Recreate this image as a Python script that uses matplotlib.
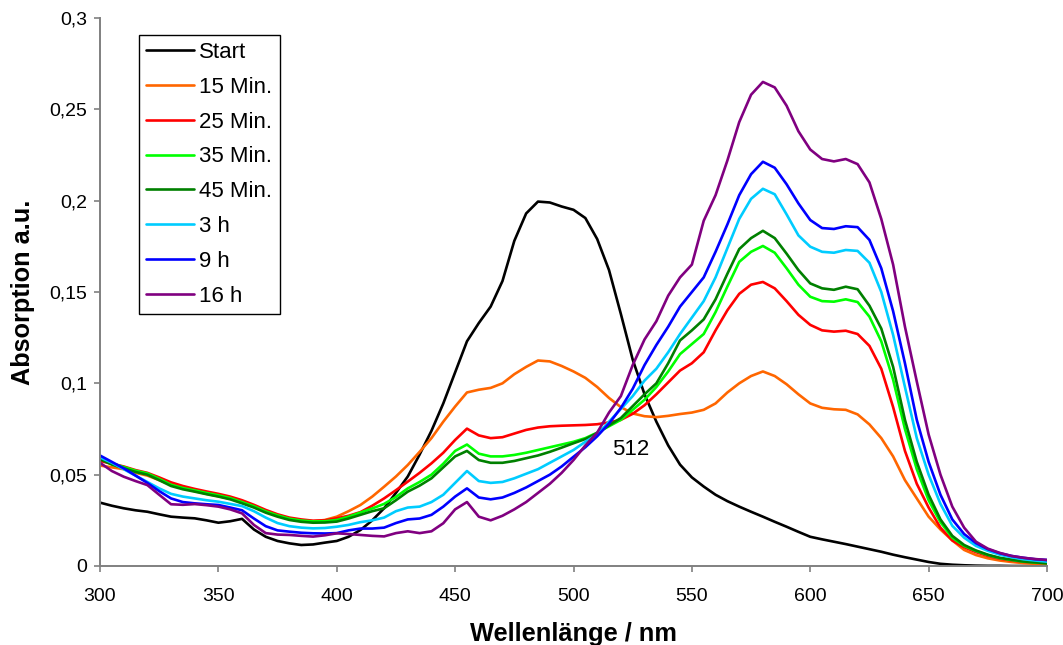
import numpy as np
import matplotlib
matplotlib.use("Agg")
import matplotlib.pyplot as plt
from matplotlib.ticker import FuncFormatter, MultipleLocator

plt.rcParams['font.family'] = ['Liberation Sans', 'DejaVu Sans']

# Wavelength grid (nm), 5 nm steps from 300 to 700
wavelength = np.arange(300, 701, 5)

labels = ["Start", "15 Min.", "25 Min.", "35 Min.", "45 Min.", "3 h", "9 h", "16 h"]
colors = ["#000000", "#FF6600", "#FF0000", "#00FF00", "#008000", "#00CCFF", "#0000FF", "#800080"]

start = [
    0.0347, 0.0330, 0.0316, 0.0305, 0.0297, 0.0283, 0.0270, 0.0265, 0.0261, 0.0250,
    0.0237, 0.0245, 0.0258, 0.0200, 0.0160, 0.0137, 0.0124, 0.0115, 0.0118, 0.0128,
    0.0137, 0.0160, 0.0197, 0.0250, 0.0316, 0.0400, 0.0490, 0.0610, 0.0740, 0.0890,
    0.1060, 0.1230, 0.1330, 0.1420, 0.1560, 0.1780, 0.1930, 0.1995, 0.1990, 0.1968,
    0.1950, 0.1905, 0.1790, 0.1620, 0.1380, 0.1130, 0.0940, 0.0790, 0.0660, 0.0555,
    0.0485, 0.0435, 0.0390, 0.0355, 0.0325, 0.0297, 0.0270, 0.0242, 0.0215, 0.0187,
    0.0160, 0.0146, 0.0133, 0.0120, 0.0106, 0.0092, 0.0078, 0.0062, 0.0048, 0.0035,
    0.0022, 0.0012, 0.0007, 0.0004, 0.0002, 0.0001, 0.0001, 0.0000, 0.0000, 0.0000,
    0.0000,
]

min15 = [
    0.0550, 0.0540, 0.0530, 0.0510, 0.0495, 0.0470, 0.0445, 0.0425, 0.0410, 0.0395,
    0.0382, 0.0368, 0.0352, 0.0325, 0.0297, 0.0275, 0.0258, 0.0250, 0.0245, 0.0252,
    0.0270, 0.0300, 0.0334, 0.0380, 0.0434, 0.0490, 0.0553, 0.0625, 0.0700, 0.0790,
    0.0873, 0.0950, 0.0965, 0.0975, 0.1000, 0.1050, 0.1090, 0.1125, 0.1120, 0.1095,
    0.1065, 0.1030, 0.0980, 0.0920, 0.0870, 0.0835, 0.0820, 0.0815, 0.0822, 0.0832,
    0.0840, 0.0855, 0.0890, 0.0950, 0.1000, 0.1040, 0.1065, 0.1040, 0.0995, 0.0940,
    0.0890, 0.0866, 0.0858, 0.0855, 0.0830, 0.0775, 0.0700, 0.0600, 0.0470, 0.0370,
    0.0270, 0.0200, 0.0140, 0.0088, 0.0060, 0.0042, 0.0030, 0.0022, 0.0016, 0.0012,
    0.0010,
]

min25 = [
    0.0575, 0.0560, 0.0545, 0.0525, 0.0510, 0.0485, 0.0458, 0.0438, 0.0422, 0.0408,
    0.0395, 0.0380, 0.0360, 0.0335, 0.0307, 0.0283, 0.0265, 0.0255, 0.0248, 0.0250,
    0.0261, 0.0275, 0.0295, 0.0330, 0.0370, 0.0415, 0.0462, 0.0510, 0.0562, 0.0620,
    0.0690, 0.0752, 0.0715, 0.0700, 0.0705, 0.0725, 0.0745, 0.0758, 0.0765, 0.0768,
    0.0770, 0.0772, 0.0776, 0.0786, 0.0800, 0.0833, 0.0880, 0.0940, 0.1005, 0.1070,
    0.1110, 0.1170, 0.1290, 0.1400, 0.1490, 0.1540, 0.1555, 0.1520, 0.1450, 0.1375,
    0.1320, 0.1290, 0.1283, 0.1288, 0.1270, 0.1205, 0.1080, 0.0870, 0.0630, 0.0450,
    0.0320, 0.0210, 0.0140, 0.0103, 0.0076, 0.0055, 0.0040, 0.0030, 0.0023, 0.0018,
    0.0015,
]

min35 = [
    0.0590, 0.0562, 0.0542, 0.0522, 0.0507, 0.0477, 0.0445, 0.0427, 0.0414, 0.0400,
    0.0387, 0.0372, 0.0350, 0.0327, 0.0299, 0.0277, 0.0259, 0.0249, 0.0244, 0.0245,
    0.0252, 0.0270, 0.0293, 0.0315, 0.0340, 0.0378, 0.0425, 0.0460, 0.0500, 0.0560,
    0.0630, 0.0665, 0.0615, 0.0600, 0.0600, 0.0608, 0.0620, 0.0635, 0.0650, 0.0665,
    0.0680, 0.0700, 0.0730, 0.0765, 0.0800, 0.0855, 0.0910, 0.0980, 0.1065, 0.1160,
    0.1215, 0.1270, 0.1390, 0.1530, 0.1665, 0.1720, 0.1752, 0.1715, 0.1630, 0.1540,
    0.1474, 0.1450, 0.1447, 0.1460, 0.1445, 0.1365, 0.1230, 0.1020, 0.0750, 0.0530,
    0.0360, 0.0240, 0.0155, 0.0110, 0.0082, 0.0060, 0.0043, 0.0033, 0.0024, 0.0019,
    0.0015,
]

min45 = [
    0.0585, 0.0555, 0.0535, 0.0515, 0.0500, 0.0470, 0.0438, 0.0420, 0.0407, 0.0393,
    0.0380, 0.0365, 0.0343, 0.0320, 0.0292, 0.0270, 0.0252, 0.0242, 0.0237, 0.0238,
    0.0243, 0.0260, 0.0280, 0.0300, 0.0316, 0.0360, 0.0407, 0.0440, 0.0480, 0.0540,
    0.0600, 0.0630, 0.0580, 0.0565, 0.0565, 0.0575, 0.0590, 0.0605, 0.0625, 0.0648,
    0.0672, 0.0695, 0.0728, 0.0770, 0.0810, 0.0875, 0.0940, 0.1000, 0.1110, 0.1235,
    0.1290, 0.1350, 0.1460, 0.1600, 0.1735, 0.1795, 0.1835, 0.1795, 0.1710, 0.1620,
    0.1547, 0.1520, 0.1512, 0.1529, 0.1515, 0.1425, 0.1300, 0.1090, 0.0800, 0.0570,
    0.0390, 0.0255, 0.0165, 0.0115, 0.0085, 0.0062, 0.0045, 0.0035, 0.0025, 0.0020,
    0.0015,
]

h3 = [
    0.0595, 0.0565, 0.0530, 0.0495, 0.0460, 0.0425, 0.0395, 0.0380, 0.0370, 0.0360,
    0.0352, 0.0340, 0.0328, 0.0300, 0.0265, 0.0235, 0.0218, 0.0210, 0.0206, 0.0208,
    0.0215, 0.0225, 0.0240, 0.0250, 0.0265, 0.0300, 0.0320, 0.0325, 0.0350, 0.0390,
    0.0455, 0.0520, 0.0465, 0.0455, 0.0460, 0.0480, 0.0505, 0.0530, 0.0565, 0.0600,
    0.0635, 0.0680, 0.0720, 0.0790, 0.0860, 0.0930, 0.1015, 0.1080, 0.1170, 0.1270,
    0.1360, 0.1450, 0.1580, 0.1740, 0.1900, 0.2010, 0.2065, 0.2035, 0.1925, 0.1810,
    0.1748, 0.1720, 0.1715, 0.1730, 0.1725, 0.1660, 0.1500, 0.1265, 0.0980, 0.0700,
    0.0500, 0.0340, 0.0220, 0.0155, 0.0110, 0.0083, 0.0062, 0.0048, 0.0037, 0.0030,
    0.0024,
]

h9 = [
    0.0605, 0.0570, 0.0535, 0.0495, 0.0455, 0.0410, 0.0370, 0.0350, 0.0343, 0.0338,
    0.0334, 0.0320, 0.0305, 0.0260, 0.0218, 0.0195, 0.0188, 0.0182, 0.0179, 0.0178,
    0.0180, 0.0195, 0.0205, 0.0205, 0.0210, 0.0235, 0.0255, 0.0260, 0.0280, 0.0325,
    0.0380, 0.0425, 0.0375, 0.0365, 0.0375, 0.0400, 0.0430, 0.0465, 0.0500, 0.0545,
    0.0598, 0.0650, 0.0710, 0.0780, 0.0865, 0.0970, 0.1100, 0.1210, 0.1310, 0.1420,
    0.1500, 0.1580, 0.1720, 0.1870, 0.2030, 0.2145, 0.2213, 0.2180, 0.2090, 0.1985,
    0.1894, 0.1850, 0.1845, 0.1860, 0.1855, 0.1785, 0.1630, 0.1395, 0.1110, 0.0800,
    0.0570, 0.0390, 0.0255, 0.0175, 0.0125, 0.0092, 0.0070, 0.0055, 0.0045, 0.0037,
    0.0033,
]

h16 = [
    0.0565, 0.0520, 0.0489, 0.0465, 0.0443, 0.0390, 0.0338, 0.0335, 0.0339, 0.0333,
    0.0325, 0.0310, 0.0288, 0.0225, 0.0180, 0.0172, 0.0170, 0.0165, 0.0161, 0.0168,
    0.0179, 0.0175, 0.0170, 0.0165, 0.0162, 0.0180, 0.0190, 0.0180, 0.0190, 0.0234,
    0.0310, 0.0350, 0.0270, 0.0250, 0.0275, 0.0310, 0.0350, 0.0400, 0.0450, 0.0510,
    0.0580, 0.0660, 0.0730, 0.0840, 0.0930, 0.1100, 0.1240, 0.1340, 0.1480, 0.1580,
    0.1650, 0.1890, 0.2030, 0.2220, 0.2430, 0.2580, 0.2650, 0.2620, 0.2520, 0.2380,
    0.2280, 0.2228, 0.2215, 0.2228, 0.2200, 0.2100, 0.1900, 0.1650, 0.1310, 0.1010,
    0.0720, 0.0500, 0.0325, 0.0210, 0.0133, 0.0095, 0.0072, 0.0055, 0.0045, 0.0038,
    0.0033,
]

series = [start, min15, min25, min35, min45, h3, h9, h16]

isosbestic_label = "512"
isosbestic_pos = (524.3, 0.064)

fig = plt.figure(figsize=(10.63, 6.45), dpi=100)
ax = fig.add_axes([100 / 1063, 1 - 566 / 645, 947 / 1063, 548 / 645])

for values, label, color in zip(series, labels, colors):
    ax.plot(wavelength, values, color=color, lw=1.9, label=label,
            solid_joinstyle='round', solid_capstyle='round')

ax.set_xlim(300, 700)
ax.set_ylim(0, 0.3)
ax.xaxis.set_major_locator(MultipleLocator(50))
ax.yaxis.set_major_locator(MultipleLocator(0.05))


def comma_fmt(v, pos):
    s = f"{v:.2f}".rstrip('0').rstrip('.')
    return s.replace('.', ',')


ax.yaxis.set_major_formatter(FuncFormatter(comma_fmt))

for side in ("top", "right"):
    ax.spines[side].set_visible(False)
for side in ("left", "bottom"):
    ax.spines[side].set_color("#808080")
    ax.spines[side].set_linewidth(1.4)

ax.tick_params(axis='both', direction='out', length=4, width=1.2,
               color="#808080", labelsize=14, labelcolor="black")
ax.tick_params(axis='x', pad=11.5)
ax.tick_params(axis='y', pad=5)

ax.set_ylabel("Absorption a.u.", fontsize=18.2, fontweight='bold', va='center')
ax.yaxis.set_label_coords((23 - 100) / 947, 0.5)
xl = ax.set_xlabel("Wellenlänge / nm", fontsize=18.3, fontweight='bold')
xl.set_va('baseline')
ax.xaxis.set_label_coords(0.5, (566 - 641) / 548)

ax.text(isosbestic_pos[0], isosbestic_pos[1], isosbestic_label, fontsize=16,
        ha='center', va='center')

leg = ax.legend(loc='upper left', bbox_to_anchor=(39 / 947, (566 - 35) / 548), fontsize=16,
                frameon=True, fancybox=False, edgecolor='black', framealpha=1,
                handlelength=2.15, handletextpad=0.25, labelspacing=0.62,
                borderpad=0.32, borderaxespad=0)
leg.get_frame().set_linewidth(1.0)

fig.savefig("out.png", dpi=100)
